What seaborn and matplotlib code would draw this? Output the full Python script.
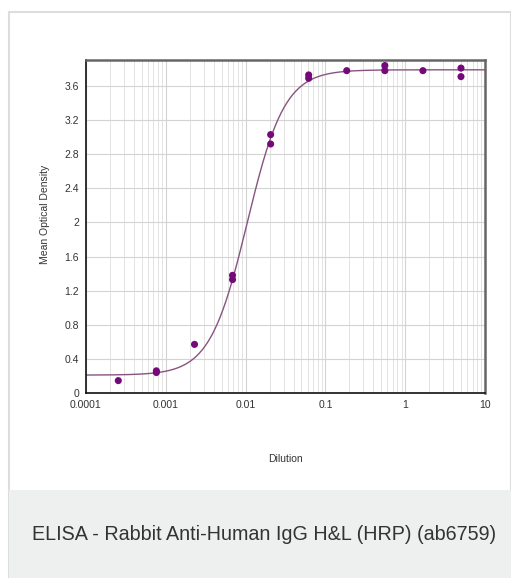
import numpy as np
import pandas as pd
import matplotlib
matplotlib.use("Agg")
import matplotlib.pyplot as plt
import matplotlib.ticker as mticker
from matplotlib.patches import Rectangle
import seaborn as sns

# Measured replicates (3-fold dilution series)
dilution = [0.000254, 0.000762, 0.000762, 0.00229, 0.00686, 0.00686,
            0.0206, 0.0206, 0.0617, 0.0617, 0.185, 0.556, 0.556,
            1.667, 5.0, 5.0]
optical_density = [0.145, 0.24, 0.26, 0.57, 1.33, 1.38,
                   3.03, 2.92, 3.73, 3.69, 3.78, 3.84, 3.78,
                   3.78, 3.81, 3.71]

# 4PL fit parameters
fit_bottom = 0.21
fit_top = 3.79
fit_ec50 = 0.0105
fit_hill = 1.85

x_ticks = [0.0001, 0.001, 0.01, 0.1, 1, 10]
x_tick_labels = ["0.0001", "0.001", "0.01", "0.1", "1", "10"]
y_ticks = [0, 0.4, 0.8, 1.2, 1.6, 2, 2.4, 2.8, 3.2, 3.6]
y_tick_labels = ["0", "0.4", "0.8", "1.2", "1.6", "2", "2.4", "2.8", "3.2", "3.6"]

caption = "ELISA - Rabbit Anti-Human IgG H&L (HRP) (ab6759)"

points = pd.DataFrame({"Dilution": dilution, "OD": optical_density})
curve_x = np.logspace(-4, 1, 400)
curve = pd.DataFrame({
    "Dilution": curve_x,
    "OD": fit_bottom + (fit_top - fit_bottom) / (1 + (fit_ec50 / curve_x) ** fit_hill),
})

sns.set_style("white")
plt.rcParams["font.family"] = ["Liberation Sans Narrow", "Liberation Sans", "DejaVu Sans"]

fig = plt.figure(figsize=(5.11, 5.78), dpi=100)

# page frame and caption band
fig.patches.append(Rectangle((9 / 511, 0), 502 / 511, 1 - 12 / 578, transform=fig.transFigure,
                             facecolor="white", edgecolor="#dddddd", linewidth=1.5, zorder=-2))
fig.patches.append(Rectangle((9 / 511, 0), 502 / 511, 88 / 578, transform=fig.transFigure,
                             facecolor="#eeefef", edgecolor="none", zorder=-1))
fig.text(264 / 511, 1 - 534 / 578, caption, ha="center", va="center",
         fontsize=14.2, color="#333333", family=["Liberation Sans", "DejaVu Sans"])

ax = fig.add_axes([86 / 511, 1 - 393 / 578, 399 / 511, 333 / 578])
ax.set_xscale("log")

sns.lineplot(data=curve, x="Dilution", y="OD", ax=ax, color="#87547f", linewidth=1.0)
sns.scatterplot(data=points, x="Dilution", y="OD", ax=ax, color="#74097a",
                s=26, edgecolor="none", zorder=5)

ax.set_xlim(0.0001, 10)
ax.set_ylim(0, 3.905)
ax.set_xticks(x_ticks)
ax.set_xticklabels(x_tick_labels)
ax.xaxis.set_minor_locator(mticker.LogLocator(base=10, subs=np.arange(2, 10)))
ax.xaxis.set_minor_formatter(mticker.NullFormatter())
ax.set_yticks(y_ticks)
ax.set_yticklabels(y_tick_labels)

ax.grid(True, which="major", color="#d4d4d4", linewidth=0.8)
ax.grid(True, which="minor", axis="x", color="#dedede", linewidth=0.6)
ax.tick_params(axis="both", which="both", length=0, labelsize=7.5, colors="#333333", pad=5)

for side in ["left", "bottom"]:
    ax.spines[side].set_color("#111111")
    ax.spines[side].set_linewidth(1.2)
for side in ["top", "right"]:
    ax.spines[side].set_color("#666666")
    ax.spines[side].set_linewidth(1.8)

ax.set_xlabel("Dilution", fontsize=7.5, color="#333333", labelpad=32)
ax.set_ylabel("Mean Optical Density", fontsize=7.5, color="#333333",
              family=["Liberation Sans", "DejaVu Sans"])
ax.yaxis.set_label_coords(-0.09, 0.535)

fig.savefig("out.png", dpi=100)
